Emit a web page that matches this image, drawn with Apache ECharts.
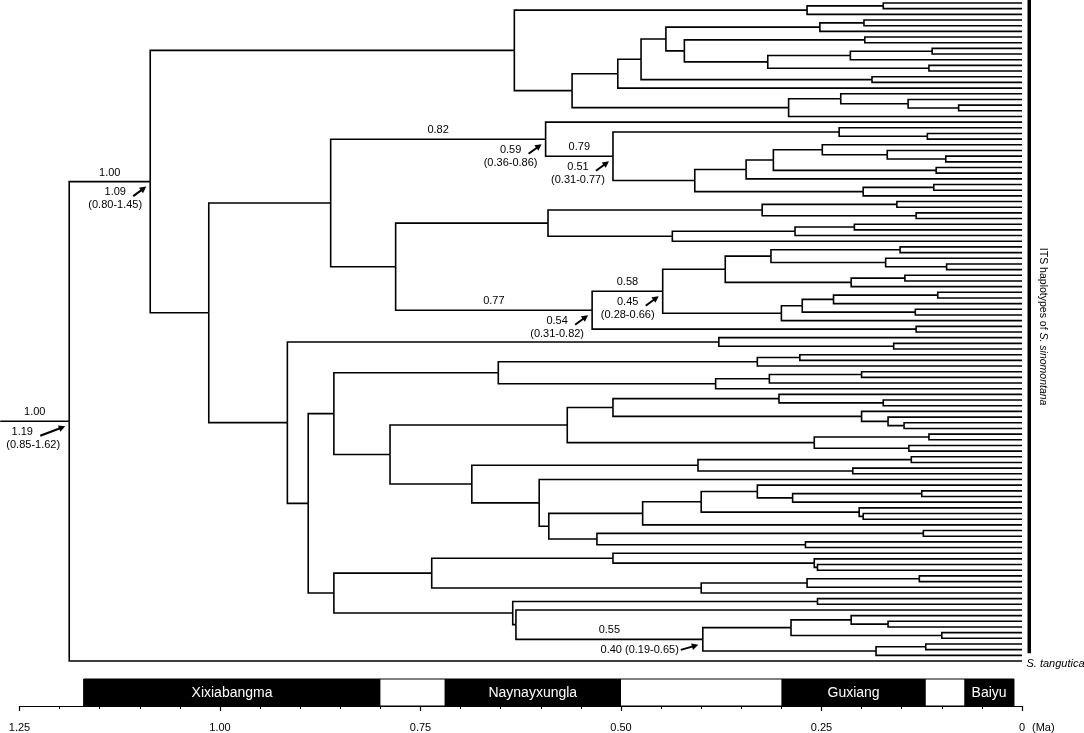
<!DOCTYPE html>
<html><head><meta charset="utf-8">
<script src="https://cdn.jsdelivr.net/npm/echarts@6/dist/echarts.min.js"></script>
<style>html,body{margin:0;padding:0;background:#fff}#c{width:1084px;height:733px}</style>
</head><body><div id="c"></div>
<script>
// ---------------- DATA ----------------
// Tree clades in Newick-like form: "t" = haplotype tip, number after ")" = node age (Ma), "*X" = node tag
const topClade = "(((t,t)0.173,t)0.268,((((((t,t)0.197,t)0.252,((t,t)0.196,(((t,t)0.112,t)0.214,(t,t)0.116)0.317)0.421)0.444,(t,t)0.187)0.475,t)0.504,((t,(t,(t,t)0.079)0.142)0.226,t)0.291)0.561)0.633";
const upperA = "(t,((t,(t,t)0.118)0.228,((((t,(t,(t,t)0.095)0.168)0.249,(t,t)0.107)0.310,t)0.344,((t,t)0.110,t)0.198)0.408)0.510*B)0.594*A";
const upperB = "(((t,t)0.156,(t,t)0.132)0.324,(((t,t)0.209,t)0.283,t)0.436)0.591";
const upperC = "(((((t,t)0.152,(t,(t,t)0.094)0.170)0.313,((t,t)0.146,t)0.213)0.370,((((t,t)0.105,t)0.235,(t,t)0.133)0.274,t)0.300)0.448*D,(t,t)0.132)0.536*C";
const lowerA = "(t,(t,t)0.160)0.378";
const lowerB = "(((t,t)0.277,t)0.330,(((t,t)0.200,t)0.315,t)0.382)0.653";
const lowerC = "(((t,(t,t)0.173)0.303,(t,(t,(t,t)0.147)0.167)0.200)0.510,((t,t)0.116,(t,t)0.141)0.259)0.567";
const lowerD = "((t,t)0.138,(t,t)0.211)0.404";
const lowerE = "(t,((((t,((t,t)0.125,t)0.286)0.330,(t,(t,t)0.198)0.203)0.400,t)0.473,((t,t)0.123,(t,t)0.270)0.530)0.590)0.602";
const lowerF = "((t,(t,(t,t)0.255)0.259)0.510,(((t,t)0.128,t)0.268,t)0.400)0.736";
const lowerG = "((t,t)0.255,(t,(((t,(t,t)0.167)0.213,(t,t)0.100)0.288,((t,t)0.120,t)0.182)0.398*E)0.631)0.635";
const upperHalf = `(${upperA},(${upperB},${upperC})0.781)0.862`;
const lowerHalf = `(${lowerA},((${lowerB},(${lowerC},(${lowerD},${lowerE})0.686)0.788)0.858,(${lowerF},${lowerG})0.858)0.890)0.916`;
const treeNewick = `((${topClade},(${upperHalf},${lowerHalf})1.014)1.087*I,og)1.188*R`;
const stemStartAge = 1.274;

const outgroupName = 'S. tangutica';
const ingroupLabelPlain = 'ITS haplotypes of ';
const ingroupLabelItalic = 'S. sinomontana';

// node annotations: support value, mean age, 95% HPD
const labelNodes    = ['R', 'I', 'A', 'B', 'C', 'D', 'E'];
const supportValues = ['1.00', '1.00', '0.82', '0.79', '0.77', '0.58', '0.55'];
const ageValues     = ['1.19', '1.09', '0.59', '0.51', '0.54', '0.45', '0.40'];
const hpdValues     = ['(0.85-1.62)', '(0.80-1.45)', '(0.36-0.86)', '(0.31-0.77)', '(0.31-0.82)', '(0.28-0.66)', '(0.19-0.65)'];
const inlineLabel   = [false, false, false, false, false, false, true];

// glaciations (Ma)
const glacNames = ['Xixiabangma', 'Naynayxungla', 'Guxiang', 'Baiyu'];
const glacStart = [1.17, 0.72, 0.30, 0.072];
const glacEnd   = [0.80, 0.50, 0.12, 0.01];

// time axis
const axisMin = 0, axisMax = 1.25, axisInterval = 0.25;
const axisUnit = '(Ma)';

// ---------------- TREE PARSING / LAYOUT ----------------
function parseTree(str) {
  let i = 0;
  function node() {
    if (str[i] === '(') {
      i++;
      const ch = [node()];
      while (str[i] === ',') { i++; ch.push(node()); }
      if (str[i] !== ')') throw new Error('Newick error at ' + i);
      i++;
      let lab = '';
      while (i < str.length && /[0-9.*A-Za-z]/.test(str[i])) { lab += str[i]; i++; }
      const parts = lab.split('*');
      return { children: ch, age: parseFloat(parts[0]), tag: parts[1] || null };
    } else {
      let lab = '';
      while (i < str.length && /[A-Za-z0-9_]/.test(str[i])) { lab += str[i]; i++; }
      return { children: null, age: 0, name: lab };
    }
  }
  const r = node();
  if (i !== str.length) throw new Error('Newick trailing at ' + i);
  return r;
}
const root = parseTree(treeNewick);
let tipIndex = 0;
const tips = [];
function layout(n) {
  if (!n.children) { n.y = tipIndex++; tips.push(n); return; }
  n.children.forEach(layout);
  n.y = (n.children[0].y + n.children[n.children.length - 1].y) / 2;
}
layout(root);
const nTips = tipIndex;
const edges = [];
const tagged = {};
function collect(n, parent) {
  n.parentAge = parent ? parent.age : stemStartAge;
  edges.push([n.parentAge, n.age, n.y, parent ? parent.y : n.y]);
  if (n.tag) tagged[n.tag] = n;
  if (n.children) n.children.forEach(c => collect(c, n));
}
collect(root, null);
const outgroupTip = tips.find(t => t.name === 'og');
const ingroupTips = tips.filter(t => t.name !== 'og');
const firstIn = ingroupTips[0].y, lastIn = ingroupTips[ingroupTips.length - 1].y;

const labelData = labelNodes.map((tg, i) => {
  const n = tagged[tg];
  return [n.age, n.y, n.parentAge, i];
});

// ---------------- RENDER ----------------
const FONT = '"Liberation Sans", Arial, Helvetica, sans-serif';
const LINE = '#000';
function txt(s, x, y, align, extra) {
  return { type: 'text', x: x, y: y, style: Object.assign({ text: s, fill: '#000', fontSize: 11, fontFamily: FONT, align: align, verticalAlign: 'middle' }, extra || {}) };
}
function arrow(x1, y1, x2, y2) {
  const dx = x2 - x1, dy = y2 - y1, L = Math.sqrt(dx * dx + dy * dy);
  const ux = dx / L, uy = dy / L, px = -uy, py = ux;
  const hl = 6.5, hw = 3.4;
  const bx = x2 - ux * hl, by = y2 - uy * hl;
  return [
    { type: 'polyline', shape: { points: [[x1, y1], [bx + ux, by + uy]] }, style: { stroke: '#000', lineWidth: 2, fill: null } },
    { type: 'polygon', shape: { points: [[x2, y2], [bx + px * hw, by + py * hw], [bx - px * hw, by - py * hw]] }, style: { fill: '#000', stroke: null } }
  ];
}
const labelLayoutDefault = { ageDx: -35, hpdDx: -35, arrowDx: -17 };
const labelLayoutOverride = { R: { ageDx: -47, hpdDx: -36, arrowDx: -29 } };

const chart = echarts.init(document.getElementById('c'), null, { renderer: 'canvas' });
const option = {
  animation: false,
  backgroundColor: '#fff',
  grid: [
    { left: 19.5, right: 62, top: 3, height: 658 },
    { left: 19.5, right: 62, top: 679, height: 28 }
  ],
  xAxis: [
    { gridIndex: 0, type: 'value', min: axisMin, max: axisMax, inverse: true, show: false },
    {
      gridIndex: 1, type: 'value', min: axisMin, max: axisMax, inverse: true, interval: axisInterval,
      position: 'bottom', offset: 10,
      axisLine: { show: true, lineStyle: { color: '#000', width: 1.2 } },
      axisTick: { show: true, length: 5, inside: false, lineStyle: { color: '#000', width: 1.2 } },
      minorTick: { show: true, splitNumber: 5, length: 3, lineStyle: { color: '#000', width: 1 } },
      splitLine: { show: false }, minorSplitLine: { show: false },
      axisLabel: { show: true, color: '#000', fontSize: 11, fontFamily: FONT, margin: 6,
        formatter: v => (v === 0 ? '0' : v.toFixed(2)) }
    }
  ],
  yAxis: [
    { gridIndex: 0, type: 'value', min: 0, max: nTips - 1, inverse: true, show: false },
    { gridIndex: 1, type: 'value', min: 0, max: 1, show: false }
  ],
  series: [
    {
      type: 'custom', name: 'tree', xAxisIndex: 0, yAxisIndex: 0, clip: false, silent: true,
      data: edges, encode: { x: [0, 1], y: [2, 3] },
      renderItem: function (params, api) {
        const pa = api.value(0), ca = api.value(1), cy = api.value(2), py = api.value(3);
        const p1 = api.coord([pa, py]), p2 = api.coord([pa, cy]), p3 = api.coord([ca, cy]);
        return { type: 'polyline', shape: { points: [p1, p2, p3] }, style: { stroke: LINE, lineWidth: 1.6, fill: null, lineJoin: 'miter' } };
      }
    },
    {
      type: 'custom', name: 'nodeLabels', xAxisIndex: 0, yAxisIndex: 0, clip: false, silent: true,
      data: labelData, encode: { x: [0, 2], y: [1] },
      renderItem: function (params, api) {
        const i = api.value(3);
        const p = api.coord([api.value(0), api.value(1)]);
        const pp = api.coord([api.value(2), api.value(1)]);
        const lay = Object.assign({}, labelLayoutDefault, labelLayoutOverride[labelNodes[i]] || {});
        let ch = [txt(supportValues[i], (p[0] + pp[0]) / 2, p[1] - 9, 'center')];
        if (inlineLabel[i]) {
          ch.push(txt(ageValues[i] + ' ' + hpdValues[i], p[0] - 24, p[1] + 10.5, 'right'));
          ch = ch.concat(arrow(p[0] - 22, p[1] + 10.5, p[0] - 4.5, p[1] + 5.5));
        } else {
          ch.push(txt(ageValues[i], p[0] + lay.ageDx, p[1] + 10.5, 'center'));
          ch.push(txt(hpdValues[i], p[0] + lay.hpdDx, p[1] + 23.5, 'center'));
          ch = ch.concat(arrow(p[0] + lay.arrowDx, p[1] + 14.5, p[0] - 4, p[1] + 5));
        }
        return { type: 'group', children: ch };
      }
    },
    {
      type: 'custom', name: 'annotations', xAxisIndex: 0, yAxisIndex: 0, clip: false, silent: true,
      data: [[0, firstIn, lastIn, outgroupTip.y]], encode: { x: [0], y: [1, 2, 3] },
      renderItem: function (params, api) {
        const top = api.coord([0, api.value(1)]), bot = api.coord([0, api.value(2)]), og = api.coord([0, api.value(3)]);
        const x0 = top[0];
        const y0 = top[1] - 3, y1 = bot[1] - 2;
        return {
          type: 'group', children: [
            { type: 'rect', shape: { x: x0 + 5.5, y: y0, width: 3.5, height: y1 - y0 }, style: { fill: '#000' } },
            { type: 'text', x: x0 + 21, y: (y0 + y1) / 2, rotation: -Math.PI / 2,
              style: { text: '{a|' + ingroupLabelPlain + '}{b|' + ingroupLabelItalic + '}', align: 'center', verticalAlign: 'middle',
                rich: { a: { fontSize: 10.5, fontFamily: FONT, fill: '#000' }, b: { fontSize: 10.5, fontFamily: FONT, fontStyle: 'italic', fill: '#000' } } } },
            txt(outgroupName, x0 + 4.5, og[1] + 2.5, 'left', { fontStyle: 'italic' })
          ]
        };
      }
    },
    {
      type: 'custom', name: 'glacOutline', xAxisIndex: 1, yAxisIndex: 1, clip: false, silent: true,
      data: [[Math.max.apply(null, glacStart), Math.min.apply(null, glacEnd)]], encode: { x: [0, 1] },
      renderItem: function (params, api) {
        const a = api.coord([api.value(0), 1]), b = api.coord([api.value(1), 0]);
        return { type: 'rect', shape: { x: a[0], y: a[1], width: b[0] - a[0], height: b[1] - a[1] }, style: { fill: null, stroke: '#000', lineWidth: 1 } };
      }
    },
    {
      type: 'custom', name: 'glaciations', xAxisIndex: 1, yAxisIndex: 1, clip: false, silent: true,
      data: glacNames.map((n, i) => [glacStart[i], glacEnd[i], i]), encode: { x: [0, 1] },
      renderItem: function (params, api) {
        const i = api.value(2);
        const a = api.coord([api.value(0), 1]), b = api.coord([api.value(1), 0]);
        return {
          type: 'group', children: [
            { type: 'rect', shape: { x: a[0], y: a[1], width: b[0] - a[0], height: b[1] - a[1] }, style: { fill: '#000' } },
            txt(glacNames[i], (a[0] + b[0]) / 2, (a[1] + b[1]) / 2 + 0.5, 'center', { fill: '#fff', fontSize: 14 })
          ]
        };
      }
    }
  ]
};
chart.setOption(option);
const zeroX = chart.convertToPixel({ xAxisIndex: 1 }, axisMin);
const baseY = chart.convertToPixel({ yAxisIndex: 1 }, 0);
chart.setOption({
  graphic: [{ type: 'text', x: zeroX + 10, y: baseY + 10 + 6 + 5.5,
    style: { text: axisUnit, fill: '#000', fontSize: 11, fontFamily: FONT, align: 'left', verticalAlign: 'middle' } }]
});
</script>
</body></html>
